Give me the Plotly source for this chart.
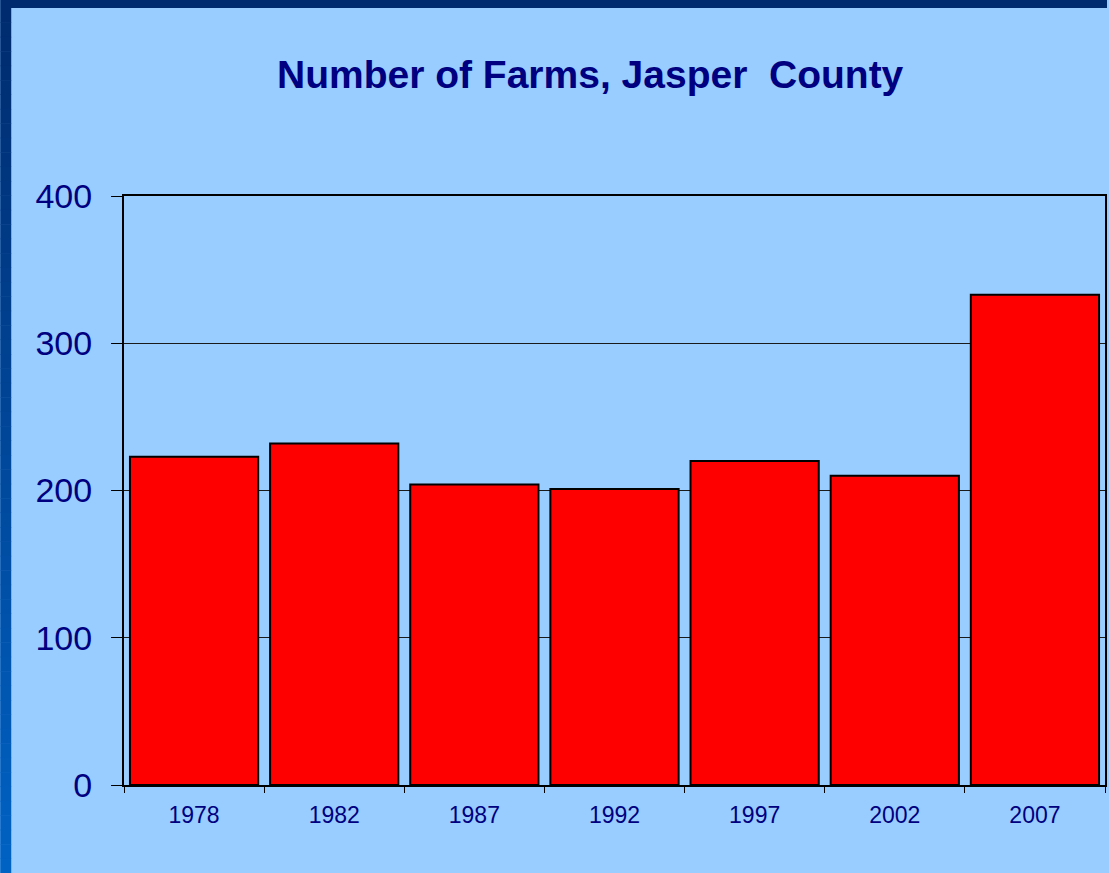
import plotly.graph_objects as go

years = ["1978", "1982", "1987", "1992", "1997", "2002", "2007"]
farms = [223, 232, 204, 201, 220, 210, 333]
title_text = "Number of Farms, Jasper  County"

W, H = 1109, 873
ML, MR, MT, MB = 124, 2, 196, 88
PW = W - ML - MR
PH = H - MT - MB

def px_x(px):
    return (px - ML) / PW

def px_y(py):
    return (H - MB - py) / PH

fig = go.Figure()
fig.add_trace(go.Bar(
    x=years, y=farms,
    marker=dict(color="#FF0000", line=dict(color="#000000", width=2)),
    hoverinfo="x+y",
))

shapes = []
# top dark strip
shapes.append(dict(type="rect", xref="paper", yref="paper",
                   x0=px_x(0), x1=px_x(W), y0=px_y(0), y1=px_y(8),
                   fillcolor="rgb(0,43,110)", line=dict(width=0), layer="above"))
# left gradient strip
n = 60
top_c = (0, 43, 110)
bot_c = (0, 98, 196)
for i in range(n):
    y0p = 8 + (H - 8) * i / n
    y1p = 8 + (H - 8) * (i + 1) / n + 0.5
    t = (i + 0.5) / n
    c = tuple(int(round(top_c[k] + (bot_c[k] - top_c[k]) * t)) for k in range(3))
    shapes.append(dict(type="rect", xref="paper", yref="paper",
                       x0=px_x(0), x1=px_x(11), y0=px_y(y0p), y1=px_y(min(y1p, H)),
                       fillcolor="rgb(%d,%d,%d)" % c, line=dict(width=0), layer="above"))

fig.update_layout(
    width=W, height=H,
    margin=dict(l=ML, r=MR, t=MT, b=MB, pad=0),
    paper_bgcolor="#99CCFF",
    plot_bgcolor="#99CCFF",
    bargap=0.085,
    showlegend=False,
    font=dict(family="Liberation Sans, Arial, sans-serif", color="#000080"),
    shapes=shapes,
    annotations=[dict(
        text="<b>" + title_text + "</b>",
        xref="paper", yref="paper",
        x=px_x(591.7), y=px_y(75), xanchor="center", yanchor="middle",
        showarrow=False,
        font=dict(size=39, color="#000080", family="Liberation Sans, Arial, sans-serif"),
    )],
    xaxis=dict(
        type="category",
        tickson="boundaries",
        ticks="outside", ticklen=6, tickwidth=1, tickcolor="#000000",
        showgrid=False,
        showline=True, linecolor="#000000", linewidth=2, mirror=True,
        tickfont=dict(size=23, color="#000080"),
        ticklabelstandoff=8,
    ),
    yaxis=dict(
        range=[0, 400], dtick=100, tick0=0,
        ticks="outside", ticklen=11, tickwidth=1, tickcolor="#000000",
        showgrid=True, gridcolor="#1a1a1a", gridwidth=1,
        zeroline=False,
        showline=True, linecolor="#000000", linewidth=2, mirror=True,
        tickfont=dict(size=34, color="#000080"),
        ticklabelstandoff=12,
    ),
)

fig.write_html(
    "out.html",
    config={"displayModeBar": False},
    post_script="document.body.style.margin='0';document.body.style.overflow='hidden';",
)
